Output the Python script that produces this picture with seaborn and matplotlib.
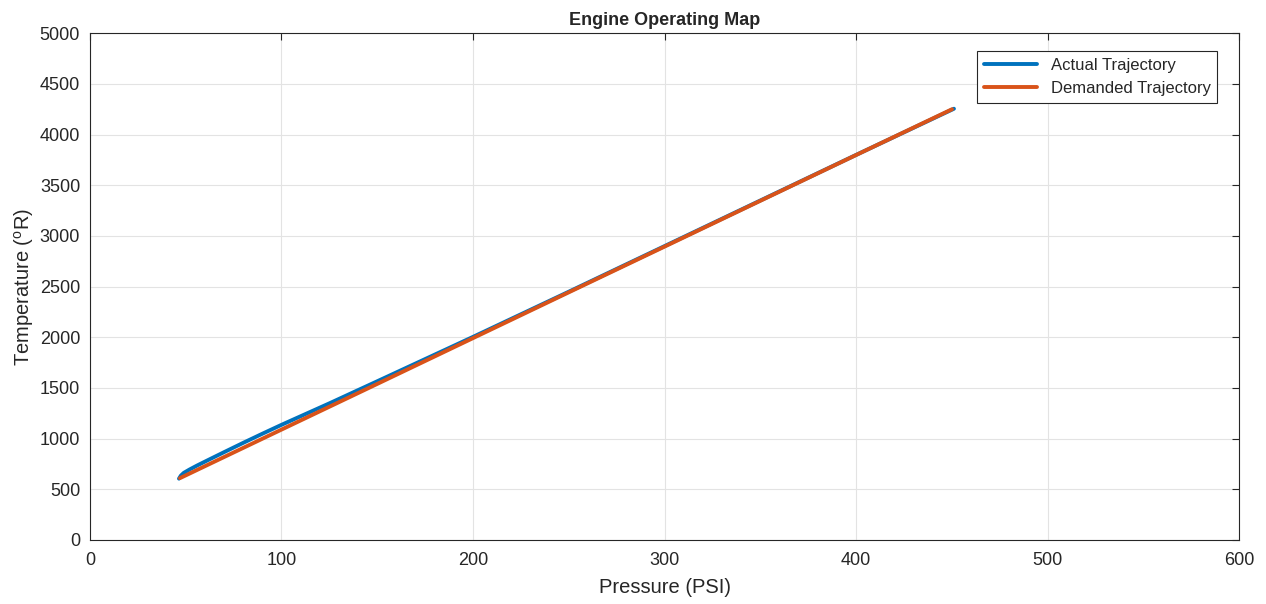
import pandas as pd
import seaborn as sns
import matplotlib.pyplot as plt

# valores
pressao_real = [46.5, 47.5, 49, 52, 56, 61, 70, 80, 90, 100, 125, 150, 175, 200, 250, 300, 350, 400, 451]
temp_real = [605, 635, 662, 695, 735, 782, 866, 958, 1048, 1136, 1348, 1566, 1785, 2004, 2450, 2900, 3350, 3800, 4255]

pressao_dem = [47, 100, 150, 200, 250, 300, 350, 400, 450]
temp_dem = [610, 1089, 1540, 1992, 2444, 2895, 3347, 3799, 4250]

df = pd.concat([
    pd.DataFrame({"P": pressao_real, "T": temp_real, "serie": "Actual Trajectory"}),
    pd.DataFrame({"P": pressao_dem, "T": temp_dem, "serie": "Demanded Trajectory"}),
])

sns.set_style("white")
plt.rcParams["font.family"] = ["Liberation Sans", "DejaVu Sans"]
plt.rcParams["mathtext.default"] = "regular"

fig, ax = plt.subplots(figsize=(12.66, 6.04), dpi=100)
fig.subplots_adjust(left=0.071, right=0.979, top=0.945, bottom=0.106)

sns.lineplot(data=df, x="P", y="T", hue="serie", sort=False,
             palette=["#0072BD", "#D95319"], linewidth=2.8, ax=ax)

ax.set_xlim(0, 600)
ax.set_ylim(0, 5000)
ax.set_xticks(range(0, 601, 100))
ax.set_yticks(range(0, 5001, 500))
ax.grid(True, color="#e3e3e3", linewidth=0.8)
ax.tick_params(direction="in", top=True, right=True, labelsize=13, length=5, color="#262626")
ax.tick_params(axis="x", pad=9)
ax.tick_params(axis="y", pad=7)
for s in ax.spines.values():
    s.set_color("#262626")
    s.set_linewidth(0.8)

ax.set_title("Engine Operating Map", fontsize=13, fontweight="bold", pad=6)
ax.set_xlabel("Pressure (PSI)", fontsize=14.5, color="#262626", labelpad=6)
ax.set_ylabel("Temperature ($^{o}$R)", fontsize=14.5, color="#262626", labelpad=3)

leg = ax.legend(loc="upper right", bbox_to_anchor=(0.985, 0.975), fontsize=12,
                fancybox=False, framealpha=1, edgecolor="#262626",
                handlelength=3.2, borderaxespad=0.3)
leg.get_frame().set_linewidth(0.8)

plt.savefig("out.png", dpi=100)
